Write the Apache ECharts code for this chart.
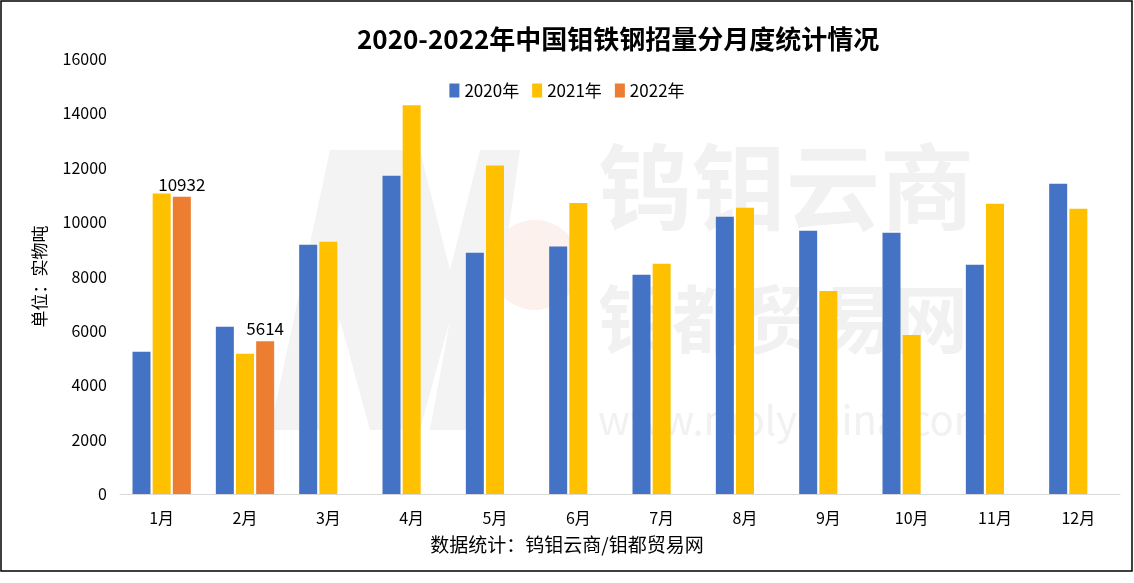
<!DOCTYPE html>
<html>
<head>
<meta charset="utf-8">
<script src="https://cdn.jsdelivr.net/npm/echarts@6/dist/echarts.min.js"></script>
<style>
html,body{margin:0;padding:0;background:#fff;}
#c{width:1134px;height:583px;}
</style>
</head>
<body>
<div id="c"></div>
<script>
const categories = ['1月','2月','3月','4月','5月','6月','7月','8月','9月','10月','11月','12月'];
const seriesNames = ['2020年','2021年','2022年'];
const data2020 = [5230, 6150, 9170, 11710, 8870, 9100, 8060, 10200, 9680, 9610, 8430, 11410];
const data2021 = [11050, 5160, 9280, 14300, 12080, 10700, 8470, 10530, 7470, 5850, 10680, 10490];
const data2022 = [10932, 5614];
const yTicks = [0, 2000, 4000, 6000, 8000, 10000, 12000, 14000, 16000];

const FONT = '"Noto Sans CJK SC", "Noto Sans", sans-serif';
const chart = echarts.init(document.getElementById('c'), null, {renderer: 'canvas'});
const wm = '#f1f1f1';
chart.setOption({
  backgroundColor: '#ffffff',
  animation: false,
  color: ['#4472C4', '#FFC000', '#ED7D31'],
  title: {
    text: '2020-2022年中国钼铁钢招量分月度统计情况',
    left: 352, top: 21,
    textStyle: {fontFamily: FONT, fontSize: 26, fontWeight: 'bold', color: '#000'}
  },
  legend: {
    data: seriesNames,
    top: 77, left: 'center',
    itemWidth: 10, itemHeight: 14, itemGap: 13,
    icon: 'rect',
    textStyle: {fontFamily: FONT, fontSize: 17, color: '#000'}
  },
  graphic: [
    {type: 'rect', z: -10, shape: {x: 1, y: 1, width: 1131, height: 570}, style: {fill: 'none', stroke: '#000', lineWidth: 1.5}},
    {type: 'circle', z: -10, shape: {cx: 535, cy: 265, r: 45}, style: {fill: '#fdf1ee'}},
    {type: 'polygon', z: -10, shape: {points: [[270,430],[330,150],[420,150],[450,270],[480,150],[520,150],[480,430],[430,430],[450,320],[420,430],[370,430],[340,320],[320,430]]}, style: {fill: '#f3f3f3'}},
    {type: 'text', z: -9, left: 598, top: 140, style: {text: '钨钼云商', font: 'bold 94px ' + FONT, fill: wm}},
    {type: 'text', z: -9, left: 598, top: 282, style: {text: '钼都贸易网', font: 'bold 74px ' + FONT, fill: wm}},
    {type: 'text', z: -9, left: 598, top: 400, style: {text: 'www.molychina.com', font: '40px ' + FONT, fill: wm}},
    {type: 'text', left: 'center', top: 535, style: {text: '数据统计：钨钼云商/钼都贸易网', font: '19px ' + FONT, fill: '#000'}}
  ],
  grid: {left: 120, right: 14, top: 59, bottom: 89, containLabel: false},
  xAxis: {
    type: 'category',
    data: categories,
    axisLine: {lineStyle: {color: '#d9d9d9', width: 1}},
    axisTick: {show: false},
    axisLabel: {fontFamily: FONT, fontSize: 16, color: '#000', margin: 16}
  },
  yAxis: {
    type: 'value',
    min: 0, max: 16000, interval: 2000,
    name: '单位：实物吨',
    nameLocation: 'middle',
    nameGap: 72,
    nameRotate: 90,
    nameTextStyle: {fontFamily: FONT, fontSize: 17, color: '#000'},
    axisLine: {show: false},
    axisTick: {show: false},
    splitLine: {show: false},
    axisLabel: {fontFamily: FONT, fontSize: 16, color: '#000', margin: 13,
      formatter: v => yTicks.includes(v) ? String(v) : ''}
  },
  series: [
    {name: seriesNames[0], type: 'bar', data: data2020, barWidth: 18, barGap: '12%'},
    {name: seriesNames[1], type: 'bar', data: data2021, barWidth: 18, barGap: '12%'},
    {name: seriesNames[2], type: 'bar', data: data2022, barWidth: 18, barGap: '12%',
      label: {show: true, position: 'top', distance: 4, fontFamily: FONT, fontSize: 17, color: '#000'}}
  ]
});
</script>
</body>
</html>
